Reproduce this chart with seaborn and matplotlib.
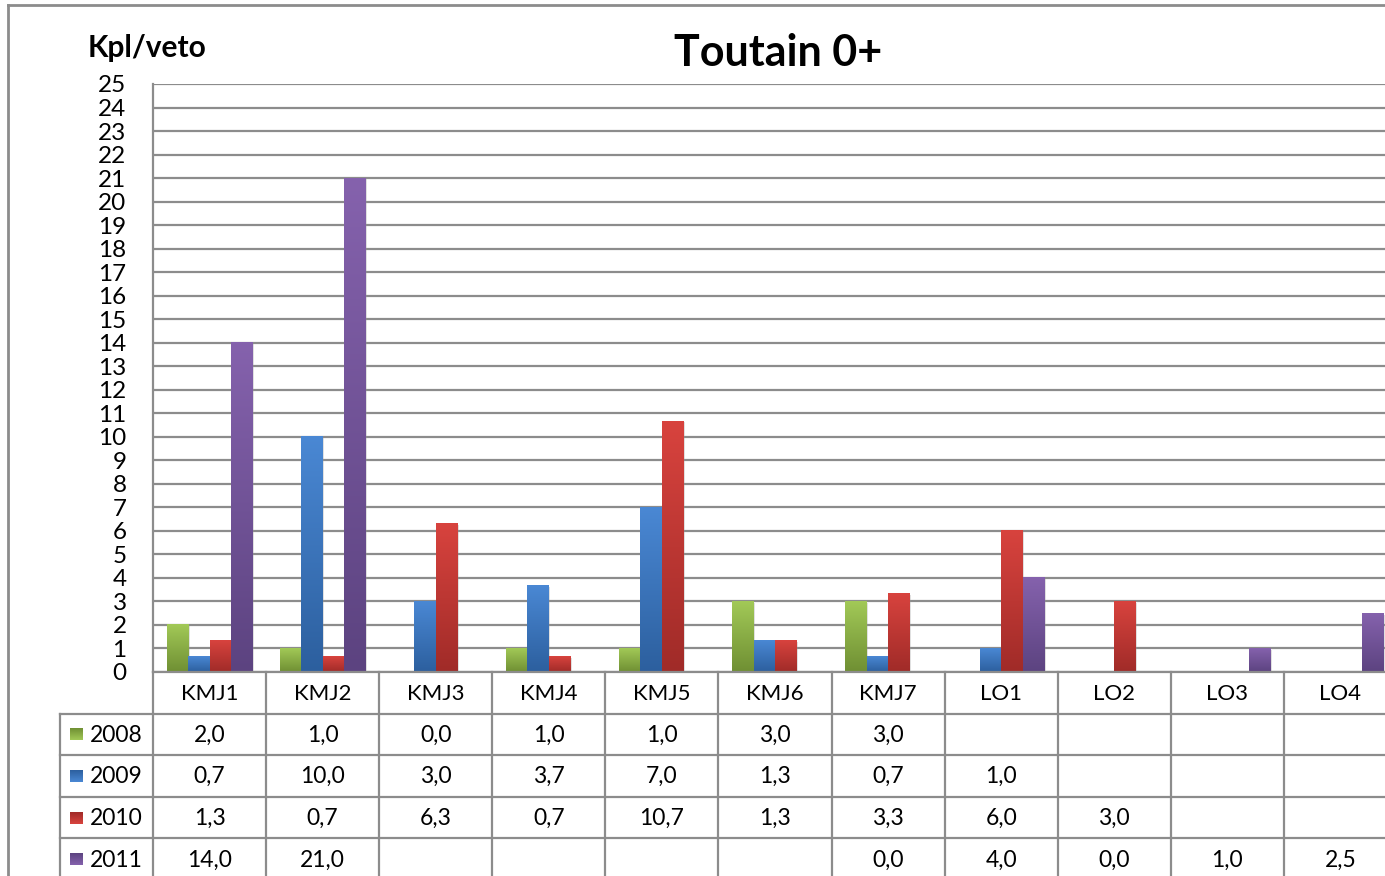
import numpy as np
import pandas as pd
import matplotlib
matplotlib.use("Agg")
import matplotlib.pyplot as plt
import seaborn as sns
from matplotlib.colors import LinearSegmentedColormap
from matplotlib.lines import Line2D
from matplotlib import patheffects as pe

# ---------------- data ----------------
CATEGORIES = ["KMJ1", "KMJ2", "KMJ3", "KMJ4", "KMJ5", "KMJ6", "KMJ7", "LO1", "LO2", "LO3", "LO4"]
YEARS = ["2008", "2009", "2010", "2011"]
nan = np.nan
v2008 = [2.0, 1.0, 0.0, 1.0, 1.0, 3.0, 3.0, nan, nan, nan, nan]
v2009 = [0.67, 10.0, 3.0, 3.67, 7.0, 1.33, 0.67, 1.0, nan, nan, nan]
v2010 = [1.33, 0.67, 6.33, 0.67, 10.67, 1.33, 3.33, 6.0, 3.0, nan, nan]
v2011 = [14.0, 21.0, nan, nan, nan, nan, 0.0, 4.0, 0.0, 1.0, 2.5]
SERIES = [v2008, v2009, v2010, v2011]

TITLE = "Toutain 0+"
YLABEL = "Kpl/veto"

# gradient colours (top, bottom) per year
TOP = ["#a2c957", "#4a88d4", "#d8433e", "#8562ad"]
BOTTOM = ["#6f8f33", "#2c5f9e", "#a02b28", "#5c4380"]
GRID = "#8c8c8c"

rows = []
for year, vals in zip(YEARS, SERIES):
    for cat, v in zip(CATEGORIES, vals):
        if not np.isnan(v):
            rows.append({"cat": cat, "year": year, "val": v})
df = pd.DataFrame(rows)

# ---------------- figure ----------------
W, H = 1385, 876
fig = plt.figure(figsize=(W / 100, H / 100), dpi=100)
plt.rcParams["font.family"] = ["Lato", "DejaVu Sans"]


def fx(px):
    return px / W


def fy(py):
    return 1 - py / H


L, R, T, B = 153, 1397, 84, 672
ax = fig.add_axes([fx(L), fy(B), fx(R) - fx(L), fy(T) - fy(B)])

sns.barplot(data=df, x="cat", y="val", hue="year", order=CATEGORIES, hue_order=YEARS,
            palette=TOP, width=0.76, ax=ax, legend=False, errorbar=None,
            saturation=1, edgecolor="none")

# gradient fill + soft shadow on every bar
grad = np.linspace(0, 1, 256).reshape(-1, 1)
for i, cont in enumerate(ax.containers):
    cmap = LinearSegmentedColormap.from_list(f"g{i}", [BOTTOM[i], TOP[i]])
    for p in cont.patches:
        h = p.get_height()
        if not h or np.isnan(h) or h <= 0:
            continue
        p.set_path_effects([pe.SimplePatchShadow(offset=(1.2, -1), shadow_rgbFace="#999999", alpha=0.3),
                            pe.Normal()])
        ax.imshow(grad, extent=[p.get_x(), p.get_x() + p.get_width(), 0, h], origin="lower",
                  cmap=cmap, aspect="auto", zorder=p.get_zorder() + 0.1, interpolation="bilinear")

ax.set_xlim(-0.5, len(CATEGORIES) - 0.5)
ax.set_ylim(0, 25)
ax.set_yticks(range(0, 26))
ax.set_xticks([])
ax.set_xlabel("")
ax.set_ylabel("")
ax.set_axisbelow(True)
ax.yaxis.grid(True, color=GRID, lw=1.6)
ax.tick_params(axis="y", length=0, pad=19, labelsize=17.5, labelcolor="black")
for s in ["top", "right", "bottom"]:
    ax.spines[s].set_visible(False)
ax.spines["left"].set_color(GRID)
ax.spines["left"].set_linewidth(1.6)

# ---------------- data table ----------------
TB = 880
tax = fig.add_axes([fx(L), fy(TB), fx(R) - fx(L), fy(B) - fy(TB)])
tax.set_xlim(-0.5, len(CATEGORIES) - 0.5)
tax.set_ylim(5, 0)
tax.axis("off")

cat_px = (R - L) / len(CATEGORIES)
leg_left = -0.5 - (L - 60) / cat_px
kw = dict(color=GRID, lw=1.6, clip_on=False)
tax.plot([-0.5, len(CATEGORIES) - 0.5], [0, 0], **kw)
for r in range(1, 5):
    tax.plot([leg_left, len(CATEGORIES) - 0.5], [r, r], **kw)
for k in range(len(CATEGORIES) + 1):
    tax.plot([k - 0.5, k - 0.5], [0, 5], **kw)
tax.plot([leg_left, leg_left], [1, 5], **kw)

for j, cat in enumerate(CATEGORIES):
    tax.text(j, 0.52, cat, ha="center", va="center", fontsize=16)

row_px = (TB - B) / 5
sq_w = 12 / cat_px
sq_h = 12 / row_px
for i, (year, vals) in enumerate(zip(YEARS, SERIES)):
    r = i + 1
    cmap = LinearSegmentedColormap.from_list(f"k{i}", [BOTTOM[i], TOP[i]])
    x0 = leg_left + 10 / cat_px
    tax.imshow(grad, extent=[x0, x0 + sq_w, r + 0.5 + sq_h / 2, r + 0.5 - sq_h / 2],
               origin="upper", cmap=cmap, aspect="auto", clip_on=False)
    tax.text(leg_left + 30 / cat_px, r + 0.52, year, ha="left", va="center", fontsize=16.5)
    for j, v in enumerate(vals):
        if np.isnan(v):
            continue
        tax.text(j, r + 0.52, f"{v:.1f}".replace(".", ","), ha="center", va="center", fontsize=16.5)
tax.set_xlim(-0.5, len(CATEGORIES) - 0.5)
tax.set_ylim(5, 0)

# ---------------- titles and outer frame ----------------
fig.text(fx(778), fy(53), TITLE, ha="center", va="center", fontsize=31, fontweight="bold")
fig.text(fx(88), fy(48), YLABEL, ha="left", va="center", fontsize=21.5, fontweight="bold")

fig.add_artist(Line2D([fx(8), fx(8)], [fy(5), 0], color=GRID, lw=2))
fig.add_artist(Line2D([fx(8), 1], [fy(5), fy(5)], color=GRID, lw=2))

fig.savefig("out.png", dpi=100)
